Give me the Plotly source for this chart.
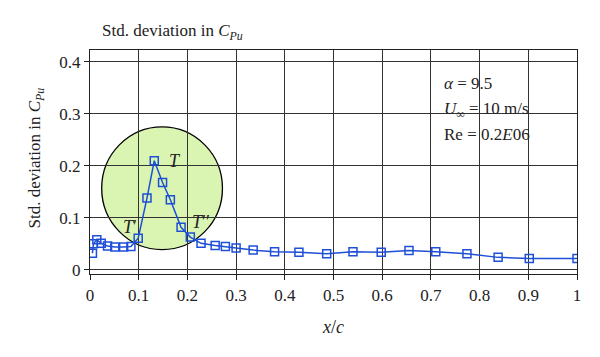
import plotly.graph_objects as go

x_c = [0.005, 0.007, 0.014, 0.023, 0.036, 0.051, 0.069, 0.084, 0.099, 0.117,
       0.132, 0.149, 0.165, 0.187, 0.206, 0.228, 0.257, 0.278, 0.300, 0.335,
       0.379, 0.429, 0.486, 0.540, 0.598, 0.655, 0.710, 0.774, 0.838, 0.902, 1.0]
std_cpu = [0.032, 0.050, 0.058, 0.051, 0.046, 0.044, 0.044, 0.045, 0.061, 0.138,
           0.210, 0.168, 0.135, 0.082, 0.063, 0.051, 0.047, 0.045, 0.042, 0.038,
           0.035, 0.034, 0.031, 0.035, 0.034, 0.037, 0.035, 0.031, 0.024, 0.022, 0.022]
x_ticks = [0, 0.1, 0.2, 0.3, 0.4, 0.5, 0.6, 0.7, 0.8, 0.9, 1]
x_tick_text = ["0", "0.1", "0.2", "0.3", "0.4", "0.5", "0.6", "0.7", "0.8", "0.9", "1"]
y_ticks = [0, 0.1, 0.2, 0.3, 0.4]
y_tick_text = ["0", "0.1", "0.2", "0.3", "0.4"]

FONT = "Liberation Serif"
BLUE = "#1f4fd6"

fig = go.Figure()
# highlight circle
fig.add_shape(type="circle", xref="x", yref="y", x0=0.024, x1=0.272, y0=0.039, y1=0.275,
              fillcolor="#d9f5b1", line=dict(color="black", width=1.3), layer="below")

fig.add_trace(go.Scatter(x=x_c, y=std_cpu, mode="lines+markers",
                         line=dict(color=BLUE, width=1.5),
                         marker=dict(symbol="square-open", size=8, color=BLUE,
                                     line=dict(width=1.5, color=BLUE)),
                         showlegend=False))

axis_common = dict(showline=True, linecolor="#222", linewidth=1.2, mirror=True,
                   showgrid=True, gridcolor="#333", gridwidth=1, zeroline=False,
                   ticks="outside", ticklen=5, tickcolor="#222",
                   tickfont=dict(family=FONT, size=17, color="#222"))

fig.update_xaxes(range=[0, 1], tickvals=x_ticks, ticktext=x_tick_text, **axis_common)
fig.update_yaxes(range=[-0.008, 0.423], tickvals=y_ticks, ticktext=y_tick_text, **axis_common)

ann = []
def txt(x, y, t, size=17, xref="x", yref="y", xanchor="left", angle=0):
    ann.append(dict(x=x, y=y, xref=xref, yref=yref, text=t, showarrow=False,
                    xanchor=xanchor, yanchor="middle", textangle=angle,
                    font=dict(family=FONT, size=size, color="#222")))

txt(0.02, 1.08, "Std. deviation in <i>C<sub>Pu</sub></i>", xref="paper", yref="paper")
txt(-0.111, 0.52, "Std. deviation in <i>C<sub>Pu</sub></i>", xref="paper", yref="paper",
    xanchor="center", angle=-90)
txt(0.499, -0.237, "<i>x</i>/<i>c</i>", xref="paper", yref="paper", xanchor="center", size=18)
txt(0.722, 0.359, "<i>α</i> = 9.5")
txt(0.722, 0.308, "<i>U</i><sub>∞</sub> = 10 m/s")
txt(0.722, 0.260, "Re = 0.2<i>E</i>06")
txt(0.158, 0.209, "<i>T</i>", size=18)
txt(0.063, 0.083, "<i>T</i>′", size=18)
txt(0.206, 0.093, "<i>T</i>′′", size=18)

fig.update_layout(width=600, height=357, margin=dict(l=82, r=31, t=42, b=91),
                  paper_bgcolor="white", plot_bgcolor="white", annotations=ann)

fig.write_html("out.html")
